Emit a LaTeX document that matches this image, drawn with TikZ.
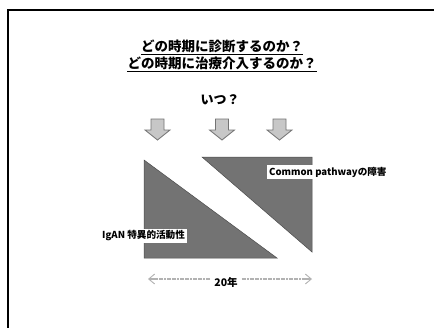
\documentclass[tikz,border=0pt]{standalone}
\usepackage{fontspec}
\setmainfont{Noto Sans CJK JP}
\usetikzlibrary{arrows.meta}
\tikzset{
  every node/.style={inner sep=0pt, font=\bfseries},
  blockarrow/.style={fill=black!22, draw=black!55, line width=0.8pt, line join=miter},
  tri/.style={fill=black!55, draw=black!70, line width=0.5pt},
  lab/.style={fill=white, inner xsep=2pt, inner ysep=2pt, font=\bfseries\fontsize{9.6}{12}\selectfont},
  span/.style={draw=black!30, line width=1.2pt, dash pattern=on 2pt off 0.6pt},
  spanhead/.style={-{Straight Barb[length=6pt,width=10pt,line width=0.9pt]}, draw=black!30, line width=1.2pt},
}
\begin{document}
\begin{tikzpicture}[x=1pt,y=-1pt]
\useasboundingbox (0,0) rectangle (434,327);
\fill[white] (0,0) rectangle (434,327);
\draw[line width=2pt] (8,330) -- (8,10) -- (436,10);

% title
\node[font=\bfseries\fontsize{13.5}{16}\selectfont] (t1) at (222,46) {どの時期に診断するのか？};
\node[font=\bfseries\fontsize{13.5}{16}\selectfont] (t2) at (222,63) {どの時期に治療介入するのか？};
\draw[line width=0.8pt] ([yshift=-2pt]t1.south west) -- ([yshift=-2pt]t1.south east);
\draw[line width=0.8pt] ([yshift=-2pt]t2.south west) -- ([yshift=-2pt]t2.south east);

\node[font=\bfseries\fontsize{13}{15}\selectfont] (when) at (220,100) {いつ？};

% arrows
\foreach \n/\x in {a1/157.5, a2/222, a3/279.5}{
  \coordinate (\n) at (\x,119);
  \draw[blockarrow, shift={(\n)}] (-6.5,0) -- (6.5,0) -- (6.5,11) -- (12.5,11) -- (0,21) -- (-12.5,11) -- (-6.5,11) -- cycle;
}

% triangles
\coordinate (l1) at (144,160);
\coordinate (l2) at (144,258);
\coordinate (l3) at (277,258);
\draw[tri] (l1) -- (l2) -- (l3) -- cycle;
\coordinate (r1) at (202,157);
\coordinate (r2) at (312,157);
\coordinate (r3) at (312,252);
\draw[tri] (r1) -- (r2) -- (r3) -- cycle;

% labels
\node[lab, anchor=west] (cp) at (267,172) {Common pathwayの障害};
\node[lab, anchor=west] (ig) at (100,236) {IgAN 特異的活動性};

% span
\node[font=\bfseries\fontsize{10.5}{12}\selectfont] (yr) at (226,282) {20年};
\coordinate (sa) at (148,279);
\coordinate (sb) at (312,279);
\draw[span] ([xshift=-4pt]yr.west |- sa) -- ([xshift=4pt]sa);
\draw[span] ([xshift=4pt]yr.east |- sb) -- ([xshift=-4pt]sb);
\draw[spanhead] ([xshift=6pt]sa) -- (sa);
\draw[spanhead] ([xshift=-6pt]sb) -- (sb);
\end{tikzpicture}
\end{document}
